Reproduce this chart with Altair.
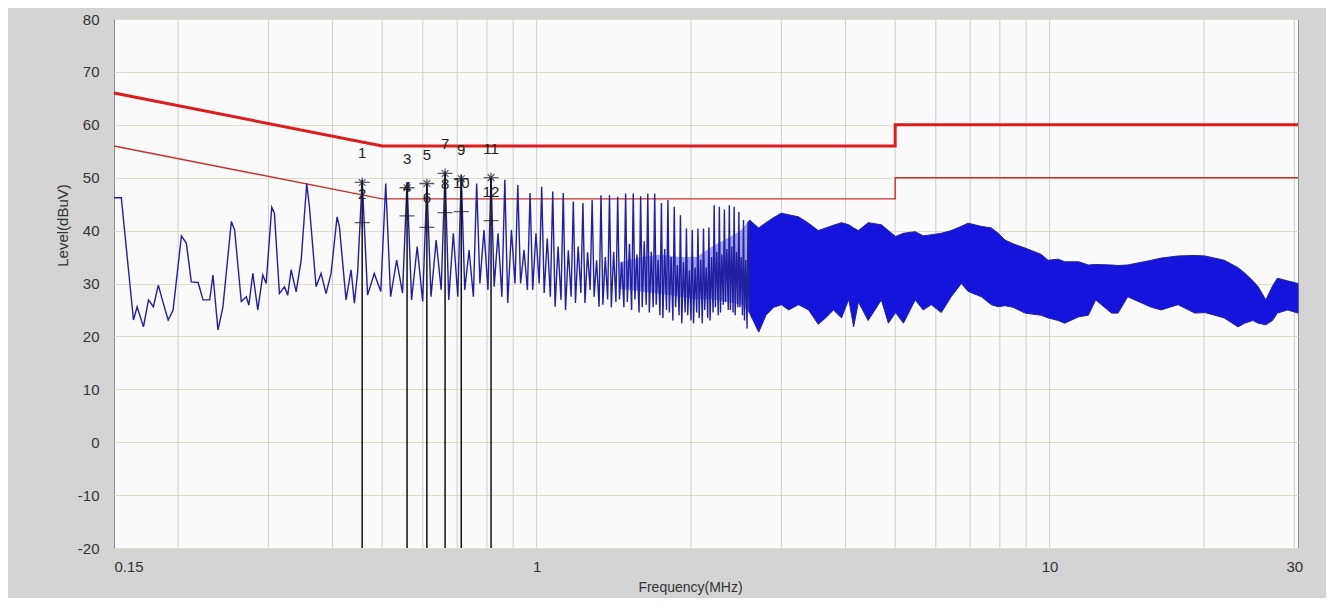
import altair as alt
import pandas as pd

# ---------------- data ----------------
# low-frequency part of the trace (MHz, dBuV)
low_freq = [0.150, 0.155, 0.1637, 0.1664, 0.1712, 0.1751, 0.1790, 0.1830, 0.1871, 0.1913,
            0.1956, 0.2030, 0.2076, 0.2122, 0.2188, 0.2237, 0.2305, 0.2339, 0.2392, 0.2446,
            0.2540, 0.2578, 0.2656, 0.2717, 0.2748, 0.2797, 0.2860, 0.2925, 0.2970, 0.3045,
            0.3082, 0.3152, 0.3224, 0.3272, 0.3322, 0.3398, 0.3475, 0.3563, 0.3606, 0.3716,
            0.3800, 0.3886, 0.3974, 0.4083, 0.4126, 0.4251, 0.4348, 0.4413, 0.4478]
low_level = [46.2, 46.2, 23.1, 25.6, 21.8, 26.9, 25.6, 29.7, 26.3, 23.1,
             25.0, 39.0, 37.6, 30.3, 30.2, 26.9, 26.9, 31.6, 21.2, 25.6,
             41.7, 40.1, 26.6, 27.5, 25.9, 31.9, 25.0, 31.6, 30.0, 44.4,
             43.3, 28.1, 29.4, 27.8, 32.6, 28.4, 34.4, 48.9, 44.5, 29.4,
             31.9, 28.1, 31.9, 42.6, 40.7, 26.9, 32.6, 26.3, 32.2]

# harmonic comb 0.45 - 2.6 MHz: peak, first trough, middle peak, second trough
comb_peak_freq = [0.457, 0.508, 0.559, 0.611, 0.663, 0.713, 0.764, 0.815, 0.867, 0.919,
                  0.971, 1.023, 1.075, 1.127, 1.179, 1.231, 1.283, 1.335, 1.387, 1.439,
                  1.491, 1.543, 1.595, 1.647, 1.699, 1.751, 1.803, 1.855, 1.907, 1.959,
                  2.011, 2.063, 2.115, 2.167, 2.219, 2.271, 2.323, 2.375, 2.427, 2.479,
                  2.531, 2.583]
comb_end_freq = 2.635
comb_peak = [49.6, 48.9, 49.2, 48.9, 51.1, 50.5, 48.9, 50.2, 49.6, 48.6,
             47.1, 48.3, 47.4, 47.1, 45.5, 45.2, 45.8, 46.7, 46.7, 46.4,
             47.0, 47.0, 46.5, 47.0, 47.0, 45.2, 45.8, 44.5, 42.9, 40.4,
             40.1, 40.4, 40.4, 40.6, 44.8, 44.5, 44.0, 44.8, 44.5, 43.5,
             42.0, 41.7]
comb_trough1 = [27.8, 27.5, 26.9, 27.5, 26.9, 28.8, 30.0, 29.4, 26.3, 30.0,
                28.8, 28.2, 25.6, 25.0, 26.3, 26.3, 27.5, 26.0, 25.5, 27.0,
                26.5, 27.0, 25.5, 24.5, 26.0, 23.5, 24.5, 25.5, 22.5, 24.0,
                22.5, 23.5, 25.0, 23.0, 25.5, 24.5, 26.5, 25.0, 24.0, 25.5,
                23.0, 24.5]
comb_mid = [31.9, 34.4, 37.0, 38.2, 39.5, 36.3, 40.1, 39.5, 40.1, 36.3,
            39.5, 38.5, 37.0, 36.3, 37.0, 35.9, 34.4, 35.0, 36.0, 34.0,
            37.5, 35.5, 38.0, 36.0, 34.5, 36.5, 35.0, 33.5, 34.0, 32.5,
            33.0, 34.5, 33.0, 35.0, 36.0, 35.5, 36.5, 37.0, 36.0, 35.0,
            34.5, 35.0]
comb_trough2 = [28.5, 28.2, 26.6, 28.8, 27.5, 27.5, 28.8, 27.5, 30.0, 28.8,
                30.0, 27.5, 26.9, 27.5, 28.2, 28.8, 25.6, 27.0, 26.5, 25.5,
                25.0, 24.5, 26.0, 25.5, 24.0, 25.0, 23.0, 24.0, 24.5, 23.0,
                24.5, 22.5, 23.5, 24.5, 24.0, 26.0, 25.0, 24.5, 25.5, 24.0,
                21.5, 23.5]

# partly filled core of the comb 1.45 - 2.6 MHz
core_freq = [1.45, 1.60, 1.75, 1.90, 2.05, 2.20, 2.35, 2.50, 2.60]
core_low = [29.0, 28.5, 28.0, 27.5, 27.0, 27.0, 26.5, 26.0, 24.5]
core_high = [34.0, 35.0, 35.5, 35.0, 35.0, 37.0, 38.5, 40.0, 42.0]

# dense part 2.6 - 30 MHz: upper and lower envelope
dense_freq = [2.60, 2.71, 2.80, 2.90, 3.00, 3.10, 3.24, 3.39, 3.54, 3.66,
              3.79, 3.93, 4.06, 4.15, 4.24, 4.43, 4.70, 4.85, 5.01, 5.19,
              5.47, 5.67, 5.88, 6.15, 6.43, 6.73, 6.94, 7.36, 7.70, 7.94,
              8.19, 8.49, 8.96, 9.63, 9.93, 10.4, 10.7, 11.4, 11.9, 12.3,
              13.2, 13.6, 14.2, 15.8, 16.5, 17.8, 19.2, 20.1, 21.9, 23.3,
              24.0, 24.9, 25.5, 26.4, 27.2, 27.8, 29.1, 30.5]
dense_top = [42.0, 40.5, 41.5, 42.5, 43.3, 43.0, 42.6, 41.4, 40.0, 40.5,
             41.0, 41.5, 41.1, 40.5, 40.0, 41.5, 41.1, 40.0, 38.9, 39.5,
             39.8, 39.0, 39.2, 39.5, 40.0, 40.8, 41.4, 40.8, 40.5, 39.5,
             38.2, 37.5, 36.7, 35.5, 34.4, 34.6, 34.1, 34.1, 33.5, 33.6,
             33.5, 33.4, 33.5, 34.4, 34.8, 35.2, 35.3, 35.2, 34.4, 33.0,
             32.0, 30.5, 29.4, 26.9, 29.5, 31.0, 30.5, 30.0]
dense_bottom = [24.5, 20.8, 24.0, 25.5, 26.0, 25.0, 26.0, 25.0, 22.3, 23.5,
                25.0, 23.5, 27.0, 21.8, 26.5, 23.0, 26.9, 22.5, 24.5, 22.5,
                26.9, 25.0, 26.0, 24.5, 27.5, 30.0, 28.5, 27.5, 26.0, 25.6,
                25.8, 25.5, 24.4, 24.0, 23.5, 23.0, 22.5, 23.7, 24.0, 26.9,
                24.4, 24.4, 27.5, 25.5, 25.0, 26.0, 24.4, 24.5, 23.5, 21.8,
                22.5, 23.0, 22.5, 22.2, 23.0, 24.4, 25.0, 24.4]

# limit lines
limit_freq = [0.15, 0.5, 5.0, 5.0, 30.5]
qp_limit = [66, 56, 56, 60, 60]
av_limit = [56, 46, 46, 50, 50]

# markers
marker_no = [1, 2, 3, 4, 5, 6, 7, 8, 9, 10, 11, 12]
marker_freq = [0.457, 0.457, 0.559, 0.559, 0.611, 0.611, 0.663, 0.663, 0.713, 0.713, 0.815, 0.815]
marker_level = [49.1, 41.5, 48.1, 42.8, 48.9, 40.6, 50.8, 43.4, 49.8, 43.6, 50.0, 41.9]

# axes
y_ticks = [-20, -10, 0, 10, 20, 30, 40, 50, 60, 70, 80]
x_labels = [0.15, 1, 10, 30]
x_grid = [0.2, 0.3, 0.4, 0.5, 0.6, 0.7, 0.8, 0.9, 1, 2, 3, 4, 5, 6, 7, 8, 9, 10, 20, 30]

# ---------------- tables ----------------
low_df = pd.DataFrame({"f": low_freq, "v": low_level})
rows = []
for i, f0 in enumerate(comb_peak_freq):
    f1 = comb_peak_freq[i + 1] if i + 1 < len(comb_peak_freq) else comb_end_freq
    d = f1 - f0
    rows.append((f0, comb_peak[i]))
    rows.append((f0 + 0.22 * d, comb_trough1[i]))
    rows.append((f0 + 0.50 * d, comb_mid[i]))
    rows.append((f0 + 0.78 * d, comb_trough2[i]))
rows.append((dense_freq[0], dense_top[0]))
comb_df = pd.DataFrame(rows, columns=["f", "v"])
trace_df = pd.concat([low_df, comb_df], ignore_index=True)

core_df = pd.DataFrame({"f": core_freq, "top": core_high, "bottom": core_low})
dense_df = pd.DataFrame({"f": dense_freq, "top": dense_top, "bottom": dense_bottom})
limit_df = pd.DataFrame({"f": limit_freq, "qp": qp_limit, "av": av_limit, "i": range(len(limit_freq))})
marker_df = pd.DataFrame({"f": marker_freq, "v": marker_level, "no": marker_no})
marker_df["label"] = marker_df["no"].astype(str)
qp_df = marker_df[marker_df["no"] % 2 == 1]
av_df = marker_df[marker_df["no"] % 2 == 0]
grid_df = pd.DataFrame({"f": x_grid})

FONT = "Liberation Sans"
xscale = alt.Scale(type="log", domain=[0.15, 30.5], nice=False)
yscale = alt.Scale(domain=[-20, 80], nice=False, zero=False)

x_axis = alt.Axis(values=x_labels, labelExpr="'' + datum.value", grid=False, ticks=False,
                  domain=False, labelFlush=True, labelPadding=11, labelFontSize=15,
                  labelFont=FONT, labelColor="#333333", title="Frequency(MHz)",
                  titleFont=FONT, titleFontSize=14, titleFontWeight="normal",
                  titleColor="#333333", titleX=576, titleY=39, titleBaseline="middle",
                  titleAlign="center")
y_axis = alt.Axis(values=y_ticks, labelExpr="'' + datum.value", grid=True,
                  gridColor="#e3dcc6", gridWidth=1, ticks=False, domain=False,
                  labelPadding=15, labelFontSize=15, labelFont=FONT, labelColor="#333333",
                  title="Level(dBuV)", titleFont=FONT, titleFontSize=15,
                  titleFontWeight="normal", titleColor="#333333", titleX=-52, titleY=206,
                  titleAngle=270, titleBaseline="middle", titleAlign="center")


def X(field="f"):
    return alt.X(f"{field}:Q", scale=xscale, axis=x_axis)


def Y(field):
    return alt.Y(f"{field}:Q", scale=yscale, axis=y_axis)


grid = alt.Chart(grid_df).mark_rule(color="#cfcfcf", strokeWidth=1).encode(
    x=X(), y=alt.datum(80), y2=alt.datum(-20)
)

qp_line = alt.Chart(limit_df).mark_line(color="#dd1c1c", strokeWidth=3).encode(
    x=X(), y=Y("qp"), order="i:Q"
)
av_line = alt.Chart(limit_df).mark_line(color="#c8302a", strokeWidth=1.4).encode(
    x=X(), y=Y("av"), order="i:Q"
)

core = alt.Chart(core_df).mark_area(color="#1a1ae0", opacity=0.4).encode(
    x=X(), y=Y("top"), y2="bottom:Q",
)

trace = alt.Chart(trace_df).mark_line(color="#2020a0", strokeWidth=1.4).encode(
    x=X(), y=Y("v")
)

dense = alt.Chart(dense_df).mark_area(color="#1414dc", stroke="#22229a", strokeWidth=1, opacity=1).encode(
    x=X(), y=Y("top"), y2="bottom:Q",
)

m_rules = alt.Chart(qp_df).mark_rule(color="#111111", strokeWidth=1.5).encode(
    x=X(), y=Y("v"), y2=alt.datum(-20),
)

star = "M-1,0L1,0M0,-0.65L0,0.65M-0.45,-0.45L0.45,0.45M-0.45,0.45L0.45,-0.45"
plus = "M-1,0L1,0M0,-0.65L0,0.65"
qp_pts = alt.Chart(qp_df).mark_point(shape=star, size=225, filled=False, color="#1a1a2a", strokeWidth=1.3).encode(
    x=X(), y=Y("v")
)
av_pts = alt.Chart(av_df).mark_point(shape=plus, size=225, filled=False, color="#1a1a2a", strokeWidth=1.3).encode(
    x=X(), y=Y("v")
)
labels = alt.Chart(marker_df).mark_text(dy=-29, fontSize=15, font=FONT, color="#222222",
                                        baseline="middle", align="center").encode(
    x=X(), y=Y("v"), text="label:N"
)

chart = alt.layer(
    grid, qp_line, av_line, core, trace, dense, m_rules, qp_pts, av_pts, labels
).properties(
    width=1184, height=529,
    autosize=alt.AutoSizeParams(type="none"),
    padding={"left": 106, "top": 11, "right": 28, "bottom": 50},
    background="#d4d4d4",
).configure_view(
    fill="#fafafa", stroke="#8a8a8a", strokeWidth=1
)

chart.save("out.html", embed_options={"renderer": "svg", "actions": False})
